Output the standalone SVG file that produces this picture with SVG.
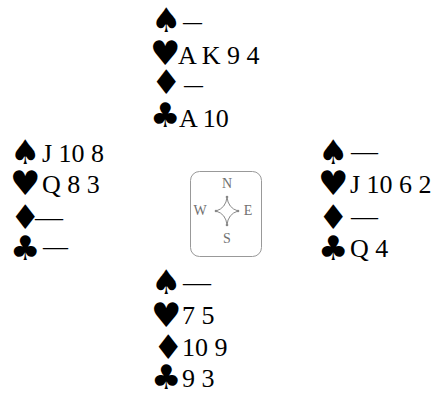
<svg xmlns="http://www.w3.org/2000/svg" width="439" height="393" viewBox="0 0 439 393">
  <style>
    .suit { font-family: "DejaVu Sans", sans-serif; font-size: 34px; fill: #000; }
    .card { font-family: "Liberation Serif", "Times New Roman", serif; font-size: 26px; fill: #000; }
    .dir { font-family: "Liberation Serif", "Times New Roman", serif; font-size: 14px; fill: #707070; text-anchor: middle; }
    .frame { fill: none; stroke: #999; stroke-width: 1; }
    .rose { fill: none; stroke: #888; stroke-width: 1; }
    .pin { fill: #888; }
  </style>
  <rect width="439" height="393" fill="#fff"/>

  <!-- North hand -->
  <g id="north">
    <text class="suit" x="151" y="32">♠</text>
    <text class="card" x="183" y="30" textLength="19" lengthAdjust="spacingAndGlyphs">—</text>
    <text class="suit" x="150" y="65">♥</text>
    <text class="card" x="178" y="64">A K 9 4</text>
    <text class="suit" x="151" y="94">♦</text>
    <text class="card" x="184" y="93" textLength="19" lengthAdjust="spacingAndGlyphs">—</text>
    <text class="suit" x="150" y="127">♣</text>
    <text class="card" x="179" y="127">A 10</text>
  </g>

  <!-- West hand -->
  <g id="west">
    <text class="suit" x="10" y="164">♠</text>
    <text class="card" x="42" y="162">J 10 8</text>
    <text class="suit" x="10" y="195">♥</text>
    <text class="card" x="42" y="193">Q 8 3</text>
    <text class="suit" x="10" y="229">♦</text>
    <text class="card" x="35" y="226" textLength="28" lengthAdjust="spacingAndGlyphs">—</text>
    <text class="suit" x="10" y="260">♣</text>
    <text class="card" x="43" y="255" textLength="25" lengthAdjust="spacingAndGlyphs">—</text>
  </g>

  <!-- East hand -->
  <g id="east">
    <text class="suit" x="318" y="164">♠</text>
    <text class="card" x="351" y="160" textLength="27" lengthAdjust="spacingAndGlyphs">—</text>
    <text class="suit" x="318" y="195">♥</text>
    <text class="card" x="350" y="193">J 10 6 2</text>
    <text class="suit" x="318" y="229">♦</text>
    <text class="card" x="351" y="225" textLength="27" lengthAdjust="spacingAndGlyphs">—</text>
    <text class="suit" x="318" y="260">♣</text>
    <text class="card" x="350" y="257">Q 4</text>
  </g>

  <!-- South hand -->
  <g id="south">
    <text class="suit" x="151" y="294">♠</text>
    <text class="card" x="183" y="291" textLength="28" lengthAdjust="spacingAndGlyphs">—</text>
    <text class="suit" x="151" y="327">♥</text>
    <text class="card" x="182" y="324">7 5</text>
    <text class="suit" x="153" y="359">♦</text>
    <text class="card" x="182" y="356">10 9</text>
    <text class="suit" x="151" y="389">♣</text>
    <text class="card" x="182" y="387">9 3</text>
  </g>

  <!-- Compass card -->
  <g id="compass">
    <rect class="frame" x="190.5" y="171.5" width="71" height="85" rx="9" ry="9"/>
    <path class="rose" d="M227 197 Q228 208 238 211 Q228 214 227 225 Q226 214 216 211 Q226 208 227 197 Z"/>
    <circle class="pin" cx="227" cy="197" r="1.3"/>
    <circle class="pin" cx="238" cy="211" r="1.3"/>
    <circle class="pin" cx="227" cy="225" r="1.3"/>
    <circle class="pin" cx="216" cy="211" r="1.3"/>
    <text class="dir" x="227" y="188">N</text>
    <text class="dir" x="200" y="215">W</text>
    <text class="dir" x="248" y="215">E</text>
    <text class="dir" x="227" y="243">S</text>
  </g>
</svg>
